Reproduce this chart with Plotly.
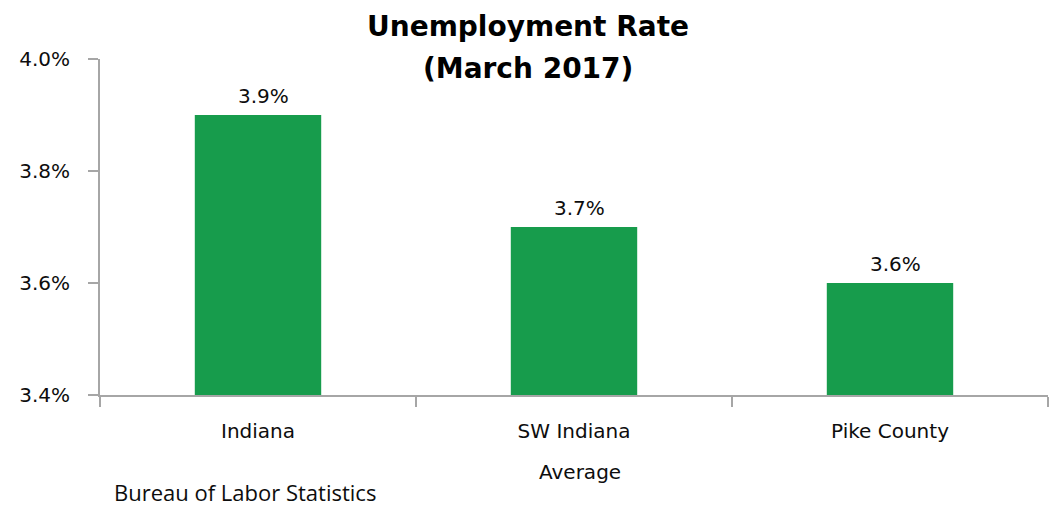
import plotly.graph_objects as go

categories = ["Indiana", "SW Indiana", "Pike County"]
rates = [3.9, 3.7, 3.6]
value_labels = ["3.9%", "3.7%", "3.6%"]
y_ticks = [3.4, 3.6, 3.8, 4.0]
y_ticklabels = ["3.4%", "3.6%", "3.8%", "4.0%"]

bar_color = "#179C4C"
axis_color = "#A6A6A6"
text_color = "#0d0d0d"
font_main = "'DejaVu Sans', sans-serif"

W, H = 1049, 506
# target plot area in page pixels
PL, PR, PT, PB = 100, 1048, 59, 395
plot_w, plot_h = PR - PL, PB - PT


def px(x):
    return (x - PL) / plot_w


def py(y):
    return (PB - y) / plot_h


fig = go.Figure()
fig.add_trace(go.Bar(
    x=categories, y=rates, marker=dict(color=bar_color, line=dict(width=0)),
    width=0.4, hoverinfo="x+y",
))

value_annotations = [
    dict(text=lbl, x=cat, y=val, xref="x", yref="y", showarrow=False,
         xanchor="center", yanchor="bottom", xshift=5, yshift=5,
         font=dict(family=font_main, size=20, color=text_color))
    for cat, val, lbl in zip(categories, rates, value_labels)
]

fig.update_layout(
    width=W, height=H,
    margin=dict(l=PL, r=W - PR, t=PT, b=H - PB, autoexpand=False),
    paper_bgcolor="white", plot_bgcolor="white",
    showlegend=False,
    title=dict(text="<b>Unemployment Rate</b>", x=px(528), xref="paper", xanchor="center",
               y=1 - 26 / H, yref="container", yanchor="middle",
               font=dict(family=font_main, size=28, color="#000000")),
    xaxis=dict(type="category", range=[-0.5, 2.5], showline=True, linecolor=axis_color,
               linewidth=2, ticks="outside", tickson="boundaries", ticklen=10,
               tickcolor=axis_color, tickwidth=2, showgrid=False, automargin=False,
               ticklabelstandoff=17,
               tickfont=dict(family=font_main, size=20, color=text_color)),
    yaxis=dict(range=[3.4, 4.0], tickvals=y_ticks, ticktext=y_ticklabels,
               showline=True, linecolor=axis_color, linewidth=2, ticks="outside",
               ticklen=10, tickcolor=axis_color, tickwidth=2, showgrid=False,
               zeroline=False, automargin=False, ticklabelstandoff=14,
               tickfont=dict(family=font_main, size=20, color=text_color)),
    annotations=value_annotations + [
        dict(text="<b>(March 2017)</b>", x=px(528), xref="paper", y=py(68), yref="paper",
             showarrow=False, xanchor="center", yanchor="middle",
             font=dict(family=font_main, size=28, color="#000000")),
        dict(text="Average", x=px(580), xref="paper", y=py(472), yref="paper",
             showarrow=False, xanchor="center", yanchor="middle",
             font=dict(family=font_main, size=20, color=text_color)),
        dict(text="Bureau of Labor Statistics", x=px(112), xref="paper", y=py(492), yref="paper",
             showarrow=False, xanchor="left", yanchor="middle",
             font=dict(family="'Open Sans', sans-serif", size=22, color=text_color)),
    ],
)

fig.write_html("out.html", config={"displayModeBar": False},
               post_script="document.body.style.margin='0px';")
